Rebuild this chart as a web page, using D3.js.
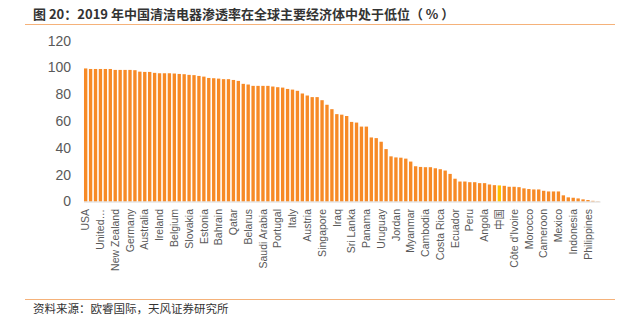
<!DOCTYPE html>
<html>
<head>
<meta charset="utf-8">
<script src="https://cdn.jsdelivr.net/npm/d3@7/dist/d3.min.js"></script>
<style>
  html, body { margin: 0; padding: 0; background: #fff; }
  svg { display: block; }
</style>
</head>
<body>
<svg id="chart" width="623" height="334"></svg>
<script>
// ---- data ----
const titleText = "图 20：2019 年中国清洁电器渗透率在全球主要经济体中处于低位（ % ）";
const sourceText = "资料来源：欧睿国际，天风证券研究所";
// labels shown under every third bar
const labels = ["USA","United…","New Zealand","Germany","Australia","Ireland","Belgium","Slovakia",
  "Estonia","Bahrain","Qatar","Belarus","Saudi Arabia","Portugal","Italy","Austria","Singapore",
  "Iraq","Sri Lanka","Panama","Uruguay","Jordan","Myanmar","Cambodia","Costa Rica","Ecuador",
  "Peru","Angola","中国","Côte d'Ivoire","Morocco","Cameroon","Mexico","Indonesia","Philippines"];
const values = [
  99.3, 98.9, 98.9, 98.9, 98.9, 98.9, 98.2, 98.2, 98.2, 98.2,
  98.0, 96.9, 96.7, 96.7, 96.0, 95.7, 95.7, 95.7, 95.5, 95.2,
  95.0, 94.5, 94.3, 93.7, 93.2, 92.2, 92.0, 91.7, 91.3, 91.3,
  90.7, 90.0, 87.8, 87.3, 86.3, 86.3, 86.3, 86.3, 85.8, 85.3,
  85.0, 84.0, 83.5, 82.6, 80.6, 79.1, 77.9, 77.9, 75.6, 72.2,
  68.9, 65.2, 64.8, 63.8, 59.4, 58.9, 55.9, 55.9, 47.8, 47.3,
  44.6, 39.1, 33.7, 32.9, 32.7, 32.0, 29.8, 26.3, 25.8, 25.6,
  25.6, 24.8, 24.1, 23.1, 20.6, 17.0, 14.9, 14.9, 14.4, 14.4,
  13.7, 13.7, 12.7, 12.2, 12.0, 11.7, 11.0, 11.0, 10.7, 9.8,
  9.3, 9.0, 9.0, 8.0, 7.5, 7.5, 7.5, 4.6, 3.1, 2.8,
  2.3, 1.6, 1.1, 0.5, 0.2
];
const labelEvery = 3;
const highlightIndex = 84; // 中国
const yTicks = [0, 20, 40, 60, 80, 100, 120];

// ---- chart ----
const svg = d3.select("#chart");
const x = d3.scaleBand().domain(d3.range(values.length)).range([83.5, 600]).paddingInner(0.32).paddingOuter(0.1);
const y = d3.scaleLinear().domain([0, 120]).range([201.5, 40.7]);

// title
svg.append("text").attr("x", 33).attr("y", 19)
  .attr("font-family", "'Noto Sans CJK SC', sans-serif").attr("font-size", 13).attr("font-weight", "bold")
  .attr("fill", "#333").text(titleText);
svg.append("line").attr("x1", 25).attr("x2", 615).attr("y1", 24.5).attr("y2", 24.5)
  .attr("stroke", "#F5B27A").attr("stroke-width", 1);

// bars
svg.append("g").selectAll("rect").data(values).join("rect")
  .attr("x", (d, i) => x(i)).attr("width", x.bandwidth())
  .attr("y", d => y(d)).attr("height", d => y(0) - y(d))
  .attr("fill", (d, i) => i === highlightIndex ? "#FFC000" : "#F78A26");

// x axis
const xAxis = d3.axisBottom(x).tickSize(0).tickSizeOuter(0)
  .tickValues(d3.range(0, values.length, labelEvery))
  .tickFormat(i => labels[i / labelEvery]);
const gx = svg.append("g").attr("transform", `translate(0,${y(0)})`).call(xAxis);
gx.select(".domain").attr("stroke", "#D9D9D9").attr("stroke-width", 1);
gx.selectAll("text")
  .attr("font-family", "Arial, 'Liberation Sans', 'Noto Sans CJK SC', sans-serif")
  .attr("font-size", 10.5).attr("fill", "#595959")
  .attr("transform", "rotate(-90)")
  .attr("text-anchor", "end")
  .attr("x", -7.5).attr("y", 0).attr("dy", "0.35em");

// y axis
const yAxis = d3.axisLeft(y).tickValues(yTicks).tickSize(0).tickFormat(d3.format("d"));
const gy = svg.append("g").attr("transform", "translate(71,0)").call(yAxis);
gy.select(".domain").remove();
gy.selectAll("text")
  .attr("font-family", "Arial, 'Liberation Sans', sans-serif")
  .attr("font-size", 14).attr("fill", "#595959").attr("x", 0);

// source
svg.append("line").attr("x1", 25).attr("x2", 615).attr("y1", 299.5).attr("y2", 299.5)
  .attr("stroke", "#F5B27A").attr("stroke-width", 1);
svg.append("text").attr("x", 33).attr("y", 313)
  .attr("font-family", "'Noto Sans CJK SC', sans-serif").attr("font-size", 11.5)
  .attr("fill", "#333").text(sourceText);
</script>
</body>
</html>
